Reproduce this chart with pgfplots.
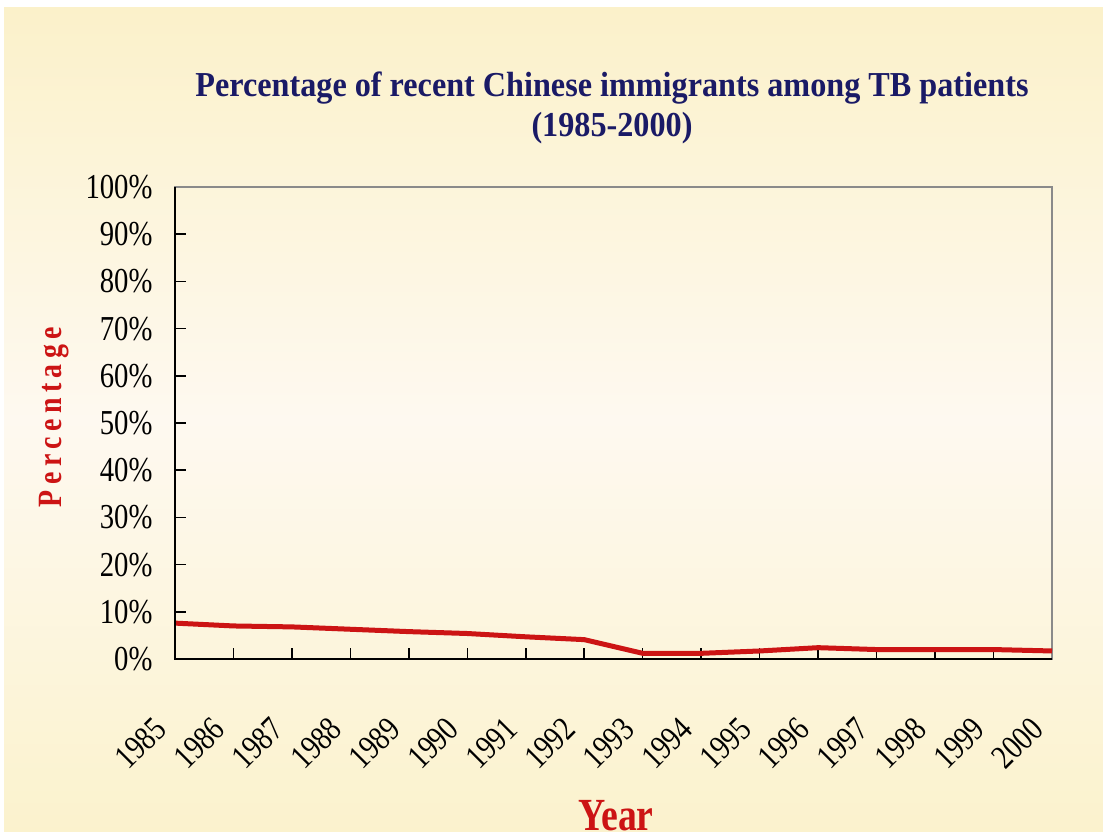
\documentclass[border=0pt]{standalone}
\usepackage{fontspec}
\usepackage{pgfplots}
\pgfplotsset{compat=1.18}
\setmainfont{Liberation Serif}
\newfontfamily\condfont[FakeStretch=0.82]{Liberation Serif}
\newfontfamily\titlefont[FakeStretch=0.92]{Liberation Serif}
\definecolor{bgtop}{HTML}{FBF1CA}
\definecolor{bgmid}{HTML}{FEF9F0}
\definecolor{bgbot}{HTML}{FBF2CD}
\definecolor{navy}{HTML}{1A1A66}
\definecolor{lred}{HTML}{CC1414}
\definecolor{framegray}{HTML}{8A8A8A}
\begin{document}
\begin{tikzpicture}[x=1pt,y=1pt]
\useasboundingbox (0,0) rectangle (1103,832);
\fill[white] (0,0) rectangle (1103,832);
\shade[top color=bgtop, bottom color=bgbot, middle color=bgmid] (4,0) rectangle (1103,824);
\node[font=\titlefont\bfseries\fontsize{35}{40}\selectfont, text=navy, align=center] at (612,724) {Percentage of recent Chinese immigrants among TB patients\\(1985-2000)};
\node[font=\condfont\bfseries\fontsize{34}{34}\selectfont\addfontfeature{LetterSpace=16}, text=lred, rotate=90] at (54,415) {Percentage};
\node[font=\condfont\bfseries\fontsize{46}{46}\selectfont, text=lred, anchor=base] at (616,1) {Year};
\begin{axis}[
  at={(175pt,173pt)}, anchor=south west,
  scale only axis, width=877pt, height=472pt,
  xmin=1985, xmax=2000, ymin=0, ymax=100,
  xtick={1985,...,2000}, ytick={0,10,...,100},
  xtick pos=bottom, ytick pos=left,
  tick align=inside, major tick length=11pt,
  tick style={black, line width=1.5pt},
  axis line style={framegray, line width=1.8pt},
  /pgf/number format/assume math mode=true,
  /pgf/number format/set thousands separator={},
  yticklabel={\pgfmathprintnumber{\tick}\%},
  yticklabel style={font=\condfont\fontsize{35}{35}\selectfont, xshift=-19pt},
  xticklabel style={font=\condfont\fontsize{34}{34}\selectfont, xshift=-12pt, yshift=-62pt, rotate=45, anchor=east},
  clip=false,
]
\addplot[lred, line width=5pt, line join=round] coordinates {
(1985,7.6) (1986,7.0) (1987,6.8) (1988,6.3) (1989,5.8) (1990,5.4) (1991,4.7) (1992,4.1)
(1993,1.2) (1994,1.2) (1995,1.7) (1996,2.4) (1997,2.0) (1998,2.0) (1999,2.0) (2000,1.7)
};
\draw[black, line width=2.2pt] (rel axis cs:0,1) -- (rel axis cs:0,0) -- (rel axis cs:1,0);
\end{axis}
\end{tikzpicture}
\end{document}
